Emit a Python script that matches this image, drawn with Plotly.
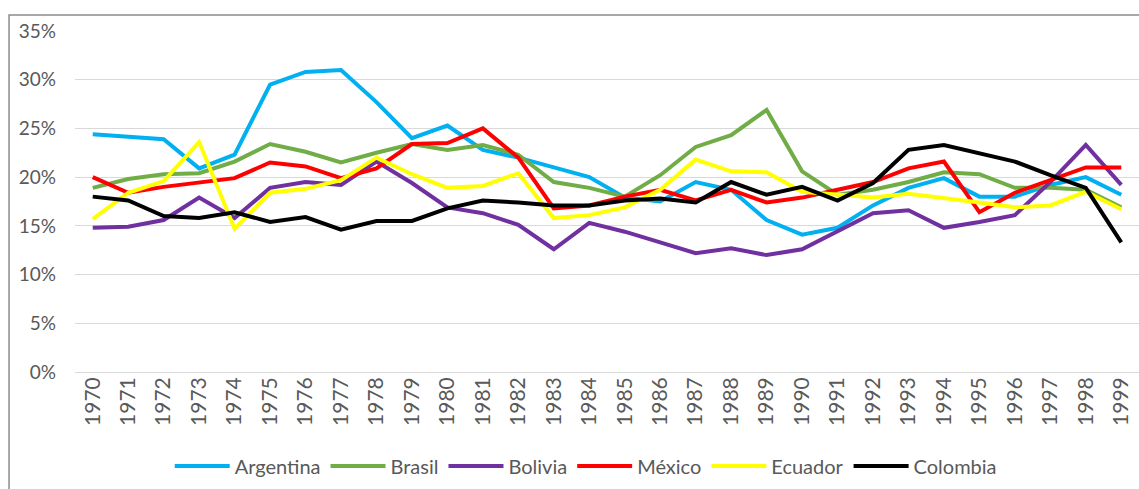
import plotly.graph_objects as go

years = [str(y) for y in range(1970, 2000)]

argentina = [24.4, 24.1, 23.9, 20.9, 22.3, 29.5, 30.8, 31.0, 27.7, 24.0,
             25.3, 22.8, 22.0, 21.0, 20.0, 17.9, 17.5, 19.5, 18.7, 15.6,
             14.1, 14.8, 17.1, 18.9, 19.9, 18.0, 18.0, 19.2, 20.0, 18.2]
brasil = [18.9, 19.8, 20.3, 20.4, 21.6, 23.4, 22.6, 21.5, 22.5, 23.4,
          22.8, 23.3, 22.3, 19.5, 18.9, 18.0, 20.2, 23.1, 24.3, 26.9,
          20.6, 18.2, 18.7, 19.5, 20.5, 20.3, 18.9, 18.9, 18.7, 16.9]
bolivia = [14.8, 14.9, 15.6, 17.9, 15.8, 18.9, 19.5, 19.2, 21.6, 19.4,
           16.9, 16.3, 15.1, 12.6, 15.3, 14.4, 13.3, 12.2, 12.7, 12.0,
           12.6, 14.4, 16.3, 16.6, 14.8, 15.4, 16.1, 19.5, 23.3, 19.2]
mexico = [20.0, 18.4, 19.0, 19.4, 19.9, 21.5, 21.1, 19.9, 20.9, 23.4,
          23.5, 25.0, 22.0, 16.8, 17.1, 18.0, 18.7, 17.6, 18.7, 17.4,
          17.9, 18.7, 19.5, 20.9, 21.6, 16.4, 18.4, 19.7, 21.0, 21.0]
ecuador = [15.7, 18.4, 19.6, 23.6, 14.7, 18.4, 18.8, 19.7, 22.0, 20.3,
           18.9, 19.1, 20.4, 15.8, 16.1, 16.9, 18.7, 21.8, 20.6, 20.5,
           18.5, 18.2, 17.9, 18.3, 17.9, 17.4, 16.9, 17.1, 18.5, 16.7]
colombia = [18.0, 17.6, 16.0, 15.8, 16.4, 15.4, 15.9, 14.6, 15.5, 15.5,
            16.8, 17.6, 17.4, 17.1, 17.1, 17.6, 17.8, 17.4, 19.5, 18.2,
            19.0, 17.6, 19.4, 22.8, 23.3, 22.5, 21.6, 20.2, 18.9, 13.3]

series = [
    ("Argentina", argentina, "#00B0F0"),
    ("Brasil", brasil, "#70AD47"),
    ("Bolivia", bolivia, "#7030A0"),
    ("México", mexico, "#FF0000"),
    ("Ecuador", ecuador, "#FFFF00"),
    ("Colombia", colombia, "#000000"),
]

fig = go.Figure()
for name, vals, color in series:
    fig.add_trace(go.Scatter(
        x=years, y=[v / 100 for v in vals], name=name, mode="lines",
        line=dict(color=color, width=4),
    ))

font_family = "Lato, 'Open Sans', sans-serif"
text_color = "#595959"

fig.update_layout(
    width=1139, height=489,
    margin=dict(l=75, r=0, t=31, b=117),
    paper_bgcolor="white", plot_bgcolor="white",
    font=dict(family=font_family, size=19, color=text_color),
    showlegend=True,
    legend=dict(
        orientation="h", x=0.48, xanchor="center", y=-0.276, yanchor="middle",
        font=dict(size=20, color=text_color), itemwidth=55,
        tracegroupgap=0,
    ),
    xaxis=dict(
        type="category", range=[-0.5, 29.5], tickangle=-90,
        showgrid=False, showline=False, ticks="",
        tickfont=dict(size=21, color=text_color),
    ),
    yaxis=dict(
        range=[0, 0.35], dtick=0.05, tickformat=".0%",
        showgrid=True, gridcolor="#D9D9D9", gridwidth=1,
        zeroline=True, zerolinecolor="#D9D9D9", zerolinewidth=1,
        showline=False, ticks="", ticklabelstandoff=18,
        tickfont=dict(size=19, color=text_color),
    ),
    shapes=[dict(
        type="rect", xref="paper", yref="paper",
        x0=-0.062, x1=1.01, y0=-0.4, y1=1.047,
        line=dict(color="#8C8C8C", width=1.5), layer="below",
    )],
)

fig.write_html("out.html")
